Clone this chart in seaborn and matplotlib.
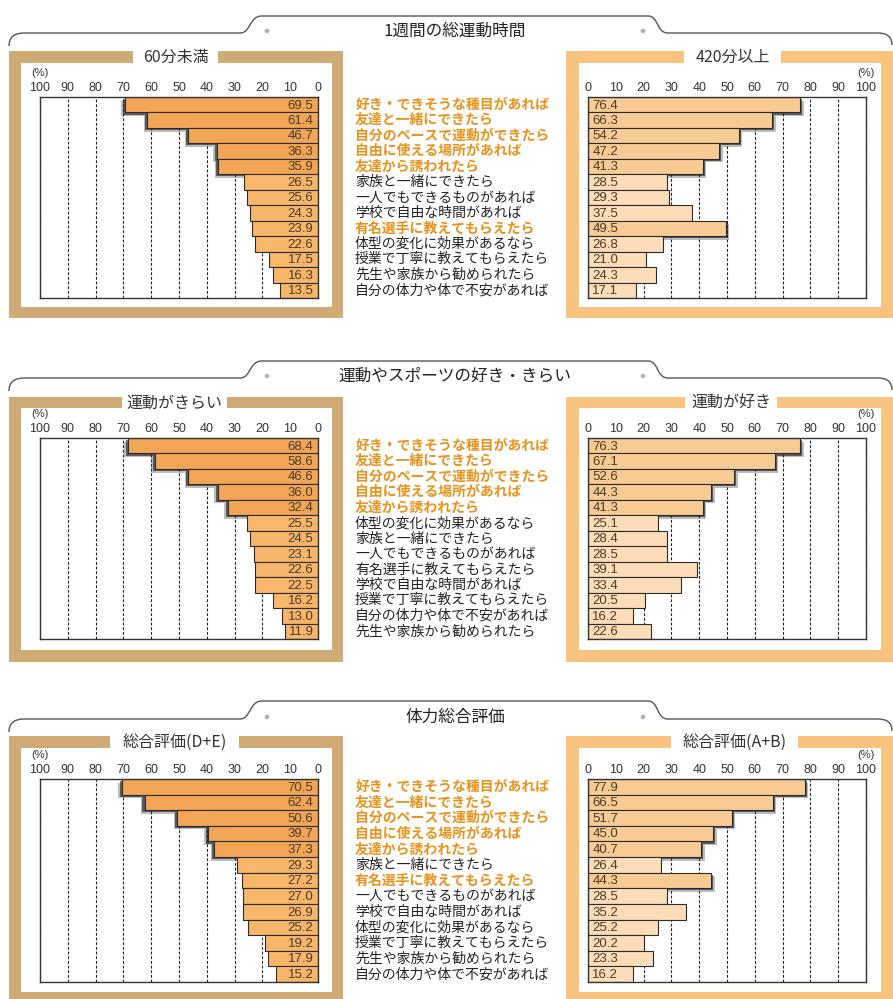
import numpy as np
import pandas as pd
import matplotlib
matplotlib.use("Agg")
import matplotlib.pyplot as plt
import matplotlib.transforms as mtransforms
from matplotlib.path import Path
from matplotlib.patches import PathPatch, Rectangle, Circle
from matplotlib import patheffects as pe
import seaborn as sns

# ---------------- data ----------------
sec_titles = ["1週間の総運動時間", "運動やスポーツの好き・きらい", "体力総合評価"]
left_titles = ["60分未満", "運動がきらい", "総合評価(D+E)"]
right_titles = ["420分以上", "運動が好き", "総合評価(A+B)"]

labels1 = ["好き・できそうな種目があれば", "友達と一緒にできたら", "自分のペースで運動ができたら",
           "自由に使える場所があれば", "友達から誘われたら", "家族と一緒にできたら",
           "一人でもできるものがあれば", "学校で自由な時間があれば", "有名選手に教えてもらえたら",
           "体型の変化に効果があるなら", "授業で丁寧に教えてもらえたら", "先生や家族から勧められたら",
           "自分の体力や体で不安があれば"]
left1 = [69.5, 61.4, 46.7, 36.3, 35.9, 26.5, 25.6, 24.3, 23.9, 22.6, 17.5, 16.3, 13.5]
right1 = [76.4, 66.3, 54.2, 47.2, 41.3, 28.5, 29.3, 37.5, 49.5, 26.8, 21.0, 24.3, 17.1]
hl1 = [0, 1, 2, 3, 4, 8]

labels2 = ["好き・できそうな種目があれば", "友達と一緒にできたら", "自分のペースで運動ができたら",
           "自由に使える場所があれば", "友達から誘われたら", "体型の変化に効果があるなら",
           "家族と一緒にできたら", "一人でもできるものがあれば", "有名選手に教えてもらえたら",
           "学校で自由な時間があれば", "授業で丁寧に教えてもらえたら", "自分の体力や体で不安があれば",
           "先生や家族から勧められたら"]
left2 = [68.4, 58.6, 46.6, 36.0, 32.4, 25.5, 24.5, 23.1, 22.6, 22.5, 16.2, 13.0, 11.9]
right2 = [76.3, 67.1, 52.6, 44.3, 41.3, 25.1, 28.4, 28.5, 39.1, 33.4, 20.5, 16.2, 22.6]
hl2 = [0, 1, 2, 3, 4]

labels3 = ["好き・できそうな種目があれば", "友達と一緒にできたら", "自分のペースで運動ができたら",
           "自由に使える場所があれば", "友達から誘われたら", "家族と一緒にできたら",
           "有名選手に教えてもらえたら", "一人でもできるものがあれば", "学校で自由な時間があれば",
           "体型の変化に効果があるなら", "授業で丁寧に教えてもらえたら", "先生や家族から勧められたら",
           "自分の体力や体で不安があれば"]
left3 = [70.5, 62.4, 50.6, 39.7, 37.3, 29.3, 27.2, 27.0, 26.9, 25.2, 19.2, 17.9, 15.2]
right3 = [77.9, 66.5, 51.7, 45.0, 40.7, 26.4, 44.3, 28.5, 35.2, 25.2, 20.2, 23.3, 16.2]
hl3 = [0, 1, 2, 3, 4, 6]

ticks = list(range(0, 101, 10))

sections = [
    dict(labels=labels1, left=left1, right=right1, hl=hl1),
    dict(labels=labels2, left=left2, right=right2, hl=hl2),
    dict(labels=labels3, left=left3, right=right3, hl=hl3),
]

# ---------------- layout (pixels) ----------------
W, H = 893, 999
layout = [
    dict(tab_top=16, tab_line=33, f_top=51, i_top=63, a_top=97, a_bot=298, i_bot=307, f_bot=318,
         lgap=(133, 218), rgap=(684, 781)),
    dict(tab_top=361, tab_line=378, f_top=397, i_top=408, a_top=438, a_bot=639, i_bot=650, f_bot=662,
         lgap=(122, 227), rgap=(685, 777)),
    dict(tab_top=701, tab_line=719, f_top=736, i_top=748, a_top=779, a_bot=982, i_bot=992, f_bot=1010,
         lgap=(110, 239), rgap=(671, 798)),
]
LX = (40, 318)
RX = (588, 866)
LF = (9, 343, 21, 332)
RF = (566, 900, 579, 881)

C_LFRAME = "#CFAA74"
C_RFRAME = "#F9C27F"
C_L_HI = "#F3A556"
C_L_LO = "#F7B669"
C_R_HI = "#F9CB94"
C_R_LO = "#FCDDB8"
C_ORANGE_TXT = "#E8921C"
C_EDGE = "#2b2b2b"

sns.set_theme(style="white")
plt.rcParams["font.family"] = ["Noto Sans CJK JP", "DejaVu Sans"]
NUMFONT = ["Liberation Sans", "DejaVu Sans"]

fig = plt.figure(figsize=(W / 100, H / 100), dpi=100)
fig.patch.set_facecolor("white")

ax_bg = fig.add_axes([0, 0, 1, 1])
ax_bg.set_xlim(0, W)
ax_bg.set_ylim(H, 0)
ax_bg.axis("off")
ax_bg.set_zorder(0)


def px_axes(x0, x1, y0, y1):
    ax = fig.add_axes([x0 / W, 1 - y1 / H, (x1 - x0) / W, (y1 - y0) / H])
    ax.set_zorder(2)
    return ax


def tab_outline(lay):
    t, l = lay["tab_top"], lay["tab_line"]
    verts = [(9, l + 13), (9, l), (24, l), (240, l),
             (251, l), (249, t), (262, t), (648, t),
             (659, t), (656, l), (668, l), (878, l),
             (892, l), (892, l + 12)]
    codes = [Path.MOVETO, Path.CURVE3, Path.CURVE3, Path.LINETO,
             Path.CURVE4, Path.CURVE4, Path.CURVE4, Path.LINETO,
             Path.CURVE4, Path.CURVE4, Path.CURVE4, Path.LINETO,
             Path.CURVE3, Path.CURVE3]
    ax_bg.add_patch(PathPatch(Path(verts, codes), fill=False, ec="#555555", lw=1.0))
    ax_bg.add_patch(Circle((267, l - 2), 2.3, color="#B0B0B0", lw=0))
    ax_bg.add_patch(Circle((643, l - 2), 2.3, color="#B0B0B0", lw=0))


def frame(lay, fx, color, gap, title):
    ox0, ox1, ix0, ix1 = fx
    ax_bg.add_patch(Rectangle((ox0, lay["f_top"]), ox1 - ox0, lay["f_bot"] - lay["f_top"],
                              color=color, lw=0))
    ax_bg.add_patch(Rectangle((ix0, lay["i_top"]), ix1 - ix0, lay["i_bot"] - lay["i_top"],
                              color="white", lw=0))
    ax_bg.add_patch(Rectangle((gap[0], lay["f_top"] - 1), gap[1] - gap[0], lay["i_top"] - lay["f_top"] + 2,
                              color="white", lw=0))
    ax_bg.text((gap[0] + gap[1]) / 2, (lay["f_top"] + lay["i_top"]) / 2 + 0.5, title,
               ha="center", va="center", fontsize=11.5, color="#333333")


def panel(ax, labels, values, hl, side):
    n = len(labels)
    if side == "left":
        colors = [C_L_HI if i < 5 else C_L_LO for i in range(n)]
        shadow_idx = [0, 1, 2, 3, 4]
    else:
        colors = [C_R_HI if i in hl else C_R_LO for i in range(n)]
        shadow_idx = hl
    df = pd.DataFrame({"item": labels, "value": values})
    sns.barplot(data=df, x="value", y="item", hue="item", order=labels, hue_order=labels,
                palette=colors, saturation=1, orient="h", width=1.0,
                edgecolor=C_EDGE, linewidth=0.8, legend=False, ax=ax)
    ax.set_ylim(n - 0.5, -0.5)
    if side == "left":
        ax.set_xlim(100, 0)
    else:
        ax.set_xlim(0, 100)
    ax.set_xticks(ticks)
    ax.set_xticklabels([str(t) for t in ticks], fontfamily=NUMFONT)
    ax.xaxis.tick_top()
    ax.tick_params(axis="x", length=0, pad=2.5, labelsize=9, labelcolor="#333333")
    ax.set_yticks([])
    ax.set_xlabel("")
    ax.set_ylabel("")
    ax.grid(True, axis="x", linestyle=(0, (2.6, 1.6)), color="#222222", lw=0.8)
    ax.grid(False, axis="y")
    ax.set_axisbelow(True)
    for s in ax.spines.values():
        s.set_visible(True)
        s.set_color("#333333")
        s.set_linewidth(1.0)
    sx = -1 if side == "left" else 1
    for p in ax.patches:
        idx = int(round(p.get_y() + p.get_height() / 2))
        if idx in shadow_idx:
            p.set_path_effects([
                pe.SimplePatchShadow(offset=(sx * 2.6, -2.6), shadow_rgbFace="#444444", alpha=0.35),
                pe.SimplePatchShadow(offset=(sx * 1.5, -1.5), shadow_rgbFace="#1a1a1a", alpha=0.6),
                pe.Normal()])
    for i, v in enumerate(values):
        ax.text(1.6, i + 0.05, f"{v:.1f}", ha="right" if side == "left" else "left", va="center",
                fontsize=9.5, color="#4a3a28", fontfamily=NUMFONT, zorder=5)
    ax.annotate("(%)", xy=(0 if side == "left" else 1, 1), xycoords="axes fraction",
                xytext=(0, 17), textcoords="offset points", ha="center", va="center",
                fontsize=8, color="#333333", fontfamily=NUMFONT)


for k, (sec, lay) in enumerate(zip(sections, layout)):
    tab_outline(lay)
    ax_bg.text(455, lay["tab_line"] - 2, sec_titles[k], ha="center", va="center",
               fontsize=12, color="#222222")
    frame(lay, LF, C_LFRAME, lay["lgap"], left_titles[k])
    frame(lay, RF, C_RFRAME, lay["rgap"], right_titles[k])

    axl = px_axes(LX[0], LX[1], lay["a_top"], lay["a_bot"])
    axr = px_axes(RX[0], RX[1], lay["a_top"], lay["a_bot"])
    panel(axl, sec["labels"], sec["left"], sec["hl"], "left")
    panel(axr, sec["labels"], sec["right"], sec["hl"], "right")

    trans = mtransforms.blended_transform_factory(ax_bg.transData, axr.transData)
    for i, lab in enumerate(sec["labels"]):
        hi = i in sec["hl"]
        ax_bg.text(355, i, lab, transform=trans, ha="left", va="center", fontsize=10,
                   color=C_ORANGE_TXT if hi else "#222222",
                   fontweight="bold" if hi else "normal")

fig.savefig("out.png", dpi=100, facecolor="white")
